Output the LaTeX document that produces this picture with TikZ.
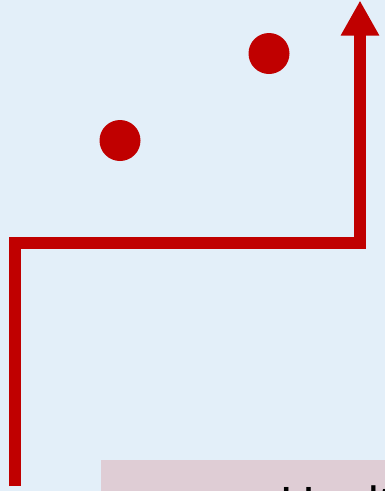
\documentclass[tikz,border=0pt]{standalone}
\usepackage{fontspec}
\setmainfont{Liberation Sans}
\usetikzlibrary{arrows.meta}
\definecolor{bgblue}{HTML}{E3EFF9}
\definecolor{pathred}{HTML}{C00000}
\definecolor{boxpink}{HTML}{DFCDD5}
\begin{document}
\begin{tikzpicture}[x=1pt,y=-1pt]
 \fill[bgblue] (0,0) rectangle (385,491);
 \useasboundingbox (0,0) rectangle (385,491);
 \clip (0,0) rectangle (385,491);
 \node[fill=boxpink, anchor=north west, minimum width=320pt, minimum height=90pt, inner sep=0pt] (box) at (101,460) {};
 \node[anchor=base west, inner sep=0pt, font=\fontsize{48}{56}\selectfont] (caption) at (280,520) {Health};
 \fill[pathred] (120,140.5) circle (20.5);
 \fill[pathred] (269,53.5) circle (20.5);
 \coordinate (start) at (15,486);
 \coordinate (top) at (360,0.5);
 \draw[pathred, line width=12pt, line join=miter, -{Triangle[width=36pt,length=35pt]}]
   (start) |- (360,242.5) -- (top);
\end{tikzpicture}
\end{document}
